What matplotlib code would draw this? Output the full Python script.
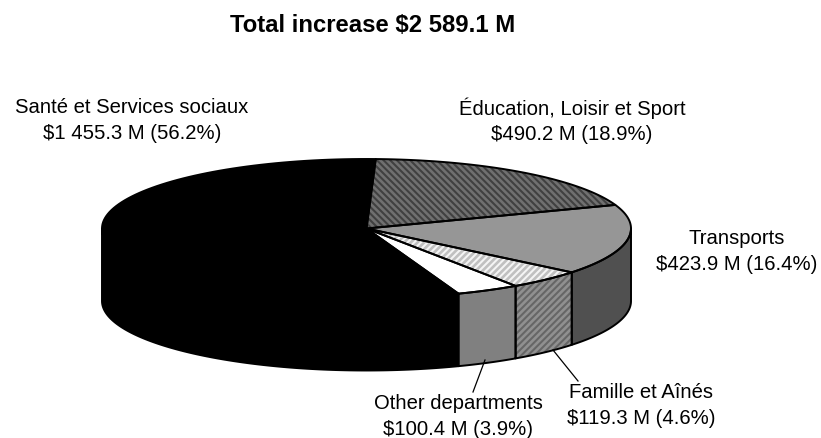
import numpy as np
import matplotlib
matplotlib.use('Agg')
import matplotlib.pyplot as plt
from matplotlib.patches import Polygon

plt.rcParams['font.family'] = ['Liberation Sans', 'DejaVu Sans']
plt.rcParams['hatch.linewidth'] = 1.9

title = 'Total increase $2 589.1 M'
names = ['Éducation, Loisir et Sport', 'Transports', 'Famille et Aînés',
         'Other departments', 'Santé et Services sociaux']
amounts = [490.2, 423.9, 119.3, 100.4, 1455.3]
amount_labels = ['$490.2 M', '$423.9 M', '$119.3 M', '$100.4 M', '$1 455.3 M']
shares = ['18.9%', '16.4%', '4.6%', '3.9%', '56.2%']

top_face = ['#404040', '#969696', '#f4f4f4', '#ffffff', '#000000']
top_hatch = ['#707070', None, '#c0c0c0', None, None]
top_pattern = ['\\\\\\\\\\', None, '/////', None, None]
side_face = ['#404040', '#505050', '#666666', '#808080', '#000000']
side_hatch = ['#707070', None, '#909090', None, None]
side_pattern = ['\\\\\\\\\\', None, '/////', None, None]

label_pos = [(572, 121), (737, 251.5), (641, 405.5), (458, 416.5), (132, 120.5)]
leaders = {2: ((553, 351), (578, 382)), 3: ((485, 361), (473, 393))}

cx, cy, rx, ry, depth = 366.5, 229.5, 264.5, 69.5, 72.5
start = 88.0

fig = plt.figure(figsize=(8.21, 4.39), dpi=100)
ax = fig.add_axes([0, 0, 1, 1])
ax.set_xlim(0, 821)
ax.set_ylim(439, 0)
ax.axis('off')


def rim(a0, a1, drop=0.0):
    t = np.radians(np.linspace(a0, a1, 120))
    return np.column_stack([cx + rx * np.cos(t), cy - ry * np.sin(t) + drop])


def face(pts, fc, hatch_col, pattern):
    if hatch_col:
        ax.add_patch(Polygon(pts, closed=True, facecolor=fc, edgecolor=hatch_col,
                             hatch=pattern, lw=0, zorder=2))
    else:
        ax.add_patch(Polygon(pts, closed=True, facecolor=fc, edgecolor='none', zorder=2))
    ax.add_patch(Polygon(pts, closed=True, facecolor='none', edgecolor='black',
                         lw=1.4, zorder=3, joinstyle='round'))


sweeps = np.array(amounts) / sum(amounts) * 360
ends = start - np.cumsum(sweeps)
starts = ends + sweeps

# side walls, only the part of each slice facing the viewer
for i in range(len(amounts)):
    a0 = min(starts[i], 0.0) if starts[i] > -180 else starts[i]
    a1 = max(ends[i], -180.0)
    if a0 <= a1:
        continue
    front = rim(a0, a1)
    wall = np.vstack([front, rim(a1, a0, depth)])
    face(wall, side_face[i], side_hatch[i], side_pattern[i])

# top faces
for i in range(len(amounts)):
    pts = np.vstack([[[cx, cy]], rim(starts[i], ends[i])])
    face(pts, top_face[i], top_hatch[i], top_pattern[i])

for i in leaders:
    (x0, y0), (x1, y1) = leaders[i]
    ax.plot([x0, x1], [y0, y1], color='black', lw=0.9, zorder=4)

ax.text(373, 25, title, ha='center', va='center', fontsize=17.2,
        fontweight='bold', parse_math=False)
for i, (x, y) in enumerate(label_pos):
    ax.text(x, y, f'{names[i]}\n{amount_labels[i]} ({shares[i]})', ha='center',
            va='center', fontsize=14.6, linespacing=1.42, parse_math=False)

fig.savefig('out.png', dpi=100)
